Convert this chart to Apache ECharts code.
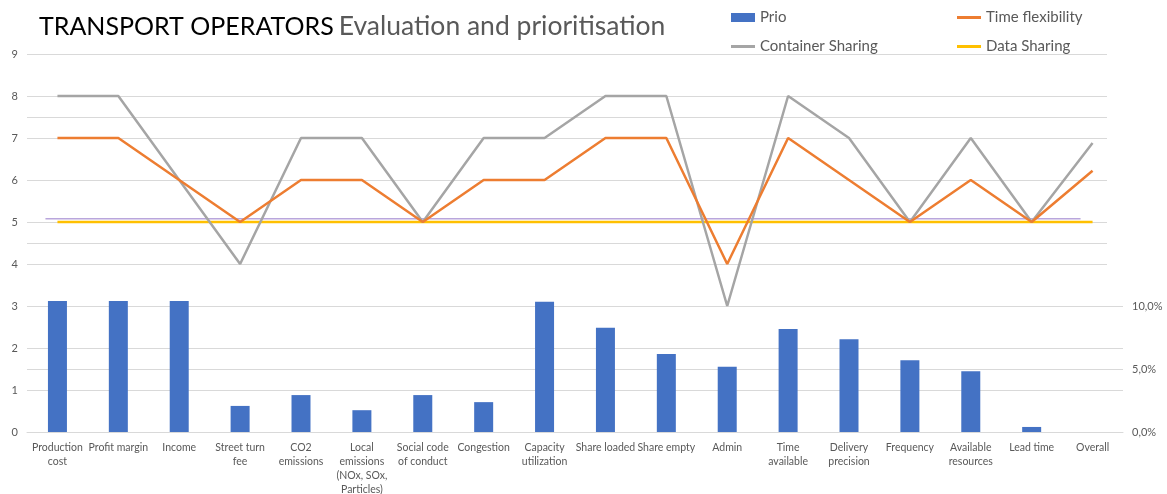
<!DOCTYPE html>
<html>
<head>
<meta charset="utf-8">
<script src="https://cdn.jsdelivr.net/npm/echarts@6/dist/echarts.min.js"></script>
<style>html,body{margin:0;padding:0;background:#fff;overflow:hidden;}#c{width:1167px;height:494px;}</style>
</head>
<body>
<div id="c"></div>
<script>
const categories = ['Production\ncost','Profit margin','Income','Street turn\nfee','CO2\nemissions','Local\nemissions\n(NOx, SOx,\nParticles)','Social code\nof conduct','Congestion','Capacity\nutilization','Share loaded','Share empty','Admin','Time\navailable','Delivery\nprecision','Frequency','Available\nresources','Lead time','Overall'];
const prioPercent = [10.4, 10.4, 10.4, 2.07, 2.93, 1.73, 2.93, 2.37, 10.33, 8.27, 6.2, 5.17, 8.17, 7.37, 5.7, 4.83, 0.4, 0];
const timeFlexibility = [7, 7, 6, 5, 6, 6, 5, 6, 6, 7, 7, 4, 7, 6, 5, 6, 5, 6.22];
const containerSharing = [8, 8, 6, 4, 7, 7, 5, 7, 7, 8, 8, 3, 8, 7, 5, 7, 5, 6.88];
const dataSharing = [5, 5, 5, 5, 5, 5, 5, 5, 5, 5, 5, 5, 5, 5, 5, 5, 5, 5];
const baseline = [5.08, 5.08, 5.08, 5.08, 5.08, 5.08, 5.08, 5.08, 5.08, 5.08, 5.08, 5.08, 5.08, 5.08, 5.08, 5.08, 5.08, 5.08];
const leftTicks = {min: 0, max: 9, interval: 1};
const rightTicks = {min: 0, max: 0.30, interval: 0.05, labelMax: 0.10};

const FONT = 'Lato, "Open Sans", sans-serif';
const GRAY = '#595959';
const chart = echarts.init(document.getElementById('c'));
const legendText = {fontSize: 15, color: GRAY, fontFamily: FONT};
function legend(name, left, top, h) {
  return {data: [name], left: left, top: top, itemWidth: 24, itemHeight: h, icon: 'rect',
    textStyle: legendText, itemGap: 4, selectedMode: false, padding: 0};
}
chart.setOption({
  animation: false,
  backgroundColor: '#fff',
  title: {
    text: '{a|TRANSPORT OPERATORS} {b|Evaluation and prioritisation}',
    left: 34, top: 8,
    textStyle: {rich: {
      a: {fontSize: 25, color: '#000', fontFamily: FONT, fontWeight: 'normal'},
      b: {fontSize: 26.5, color: GRAY, fontFamily: FONT, fontWeight: 'normal'}
    }}
  },
  legend: [
    legend('Prio', 731, 10, 9),
    legend('Container Sharing', 731, 39, 3),
    legend('Time flexibility', 957, 10, 3),
    legend('Data Sharing', 957, 39, 3)
  ],
  grid: [
    {left: 27, right: 44, top: 54, bottom: 62, outerBoundsMode: 'none', containLabel: false},
    {left: 15, right: 56, top: 54, bottom: 62, outerBoundsMode: 'none', containLabel: false}
  ],
  xAxis: [
    {type: 'category', data: categories, gridIndex: 0,
     axisLine: {lineStyle: {color: '#d9d9d9'}}, axisTick: {show: false},
     axisLabel: {interval: 0, color: GRAY, fontSize: 10.5, fontFamily: FONT, lineHeight: 14, margin: 9}},
    {type: 'category', data: categories, gridIndex: 1, show: false}
  ],
  yAxis: [
    {type: 'value', gridIndex: 0, min: leftTicks.min, max: leftTicks.max, interval: leftTicks.interval,
     axisLabel: {color: GRAY, fontSize: 11, fontFamily: FONT, margin: 9},
     splitLine: {lineStyle: {color: '#d9d9d9', width: 1}}},
    {type: 'value', gridIndex: 0, position: 'right', min: rightTicks.min, max: rightTicks.max, interval: rightTicks.interval,
     axisLabel: {color: GRAY, fontSize: 11, fontFamily: FONT, margin: 9,
       formatter: v => v <= rightTicks.labelMax + 1e-9 ? (v * 100).toFixed(1).replace('.', ',') + '%' : ''},
     splitLine: {lineStyle: {color: '#d9d9d9', width: 1}}},
    {type: 'value', gridIndex: 1, min: leftTicks.min, max: leftTicks.max, show: false, splitLine: {show: false}}
  ],
  graphic: [{type: 'rect', shape: {x: 1107, y: 0, width: 20, height: 272}, style: {fill: '#fff'}, z: 5, silent: true}],
  series: [
    {name: 'Prio', type: 'bar', xAxisIndex: 0, yAxisIndex: 1, barWidth: 19,
     itemStyle: {color: '#4472C4'}, data: prioPercent.map(v => v / 100)},
    {name: 'Baseline', type: 'line', xAxisIndex: 1, yAxisIndex: 2, symbol: 'none',
     lineStyle: {color: '#b9a6dc', width: 1.5}, data: baseline, z: 3},
    {name: 'Data Sharing', type: 'line', symbol: 'none', lineStyle: {color: '#FFC000', width: 2.5},
     itemStyle: {color: '#FFC000'}, data: dataSharing, z: 4},
    {name: 'Time flexibility', type: 'line', symbol: 'none', lineStyle: {color: '#ED7D31', width: 2.5},
     itemStyle: {color: '#ED7D31'}, data: timeFlexibility, z: 5},
    {name: 'Container Sharing', type: 'line', symbol: 'none', lineStyle: {color: '#A5A5A5', width: 2.5},
     itemStyle: {color: '#A5A5A5'}, data: containerSharing, z: 4}
  ]
});
</script>
</body>
</html>
